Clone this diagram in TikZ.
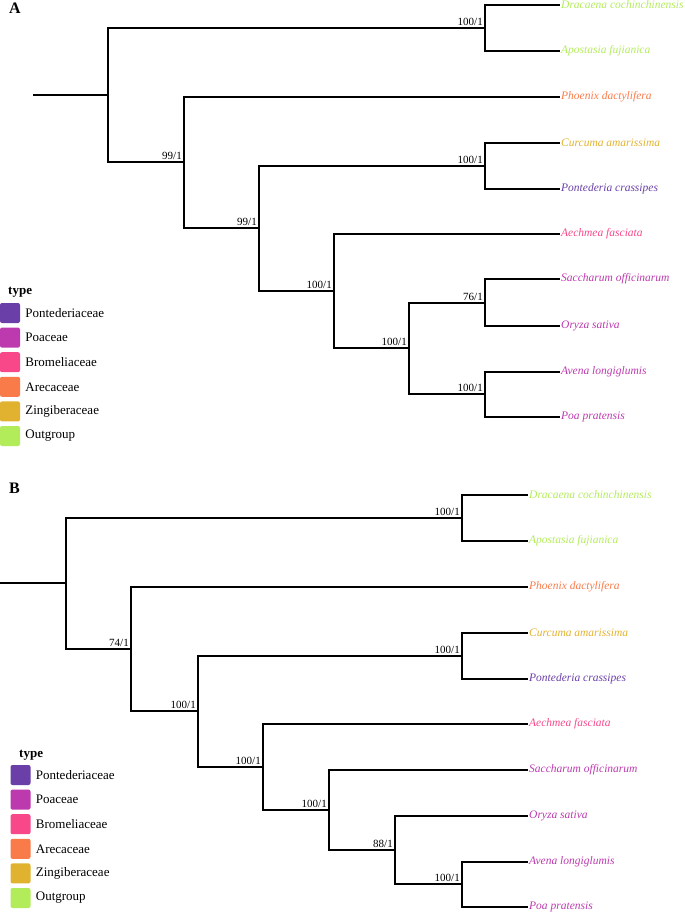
\documentclass[tikz,border=0pt]{standalone}
\usepackage{fontspec}
\setmainfont{Liberation Serif}
\usetikzlibrary{positioning}
\definecolor{ponte}{HTML}{6A3FA8}
\definecolor{poa}{HTML}{BC3AAE}
\definecolor{brom}{HTML}{F8488A}
\definecolor{areca}{HTML}{F97B4A}
\definecolor{zingi}{HTML}{E1B22F}
\definecolor{outg}{HTML}{B3EC5A}
\begin{document}
\begin{tikzpicture}
[x=1pt,y=-1pt,
  every node/.append style={font=\fontsize{11}{13}\selectfont},%
  branchdecorate/.style={-,line width=1.1pt},%
  taxondecorate/.style={anchor=west,inner sep=1pt,font=\fontsize{11.5}{13}\selectfont\itshape},%
  supportdecorate/.style={anchor=south east,inner sep=2pt},%
  keydecorate/.style={minimum size=20pt,inner sep=0pt,rounded corners=2pt},%
  keytextdecorate/.style={inner sep=0pt,font=\fontsize{13}{15}\selectfont},%
  paneldecorate/.style={font=\fontsize{16}{18}\selectfont\bfseries}]
\useasboundingbox (0,0) rectangle (685,914);
\node[paneldecorate] (panelA) at (15,8) {A};
\node[paneldecorate] (panelB) at (14.5,488) {B};
%% tree A: inner nodes
\foreach \nodename/\x/\y in {aroot/33/95, a0/108/95, a1/485/28, a2/184/162,
  a3/259/228, a4/485/166, a5/334/291, a6/409/348, a7/485/303, a8/485/394} {
  \coordinate (\nodename) at (\x,\y);
}
%% tree A: tips
\foreach \nodename/\y/\col/\taxon in {adrac/5/outg/Dracaena cochinchinensis,
  aapos/51/outg/Apostasia fujianica, aphoe/97/areca/Phoenix dactylifera,
  acurc/143/zingi/Curcuma amarissima, apont/189/ponte/Pontederia crassipes,
  aaech/234/brom/Aechmea fasciata, asacc/279/poa/Saccharum officinarum,
  aoryz/326/poa/Oryza sativa, aaven/372/poa/Avena longiglumis,
  apoap/417/poa/Poa pratensis} {
  \coordinate (\nodename) at (560,\y);
  \node[taxondecorate,text=\col] (t\nodename) at (\nodename) {\taxon};
}
%% tree B: inner nodes
\foreach \nodename/\x/\y in {broot/0/583, b0/66/583, b1/462/518, b2/131/649,
  b3/198/711, b4/462/656, b5/263/767, b6/329/810, b7/395/850, b8/462/884} {
  \coordinate (\nodename) at (\x,\y);
}
%% tree B: tips
\foreach \nodename/\y/\col/\taxon in {bdrac/495/outg/Dracaena cochinchinensis,
  bapos/541/outg/Apostasia fujianica, bphoe/587/areca/Phoenix dactylifera,
  bcurc/633/zingi/Curcuma amarissima, bpont/679/ponte/Pontederia crassipes,
  baech/724/brom/Aechmea fasciata, bsacc/770/poa/Saccharum officinarum,
  boryz/816/poa/Oryza sativa, baven/862/poa/Avena longiglumis,
  bpoap/907/poa/Poa pratensis} {
  \coordinate (\nodename) at (528,\y);
  \node[taxondecorate,text=\col] (t\nodename) at (\nodename) {\taxon};
}
%% branches
\foreach \startnode/\endnode in {aroot/a0, a0/a1, a0/a2, a1/adrac, a1/aapos,
  a2/aphoe, a2/a3, a3/a4, a3/a5, a4/acurc, a4/apont, a5/aaech, a5/a6,
  a6/a7, a6/a8, a7/asacc, a7/aoryz, a8/aaven, a8/apoap,
  broot/b0, b0/b1, b0/b2, b1/bdrac, b1/bapos, b2/bphoe, b2/b3, b3/b4,
  b3/b5, b4/bcurc, b4/bpont, b5/baech, b5/b6, b6/bsacc, b6/b7, b7/boryz,
  b7/b8, b8/baven, b8/bpoap} {
  \draw[branchdecorate] (\startnode) |- (\endnode);
}
%% support values
\foreach \nodename/\boot/\post in {a1/100/1, a2/99/1, a3/99/1, a4/100/1,
  a5/100/1, a6/100/1, a7/76/1, a8/100/1,
  b1/100/1, b2/74/1, b3/100/1, b4/100/1, b5/100/1, b6/100/1, b7/88/1,
  b8/100/1} {
  \node[supportdecorate] (s\nodename) at (\nodename) {\boot/\post};
}
%% legends
\node[anchor=west,keytextdecorate,font=\fontsize{13}{15}\selectfont\bfseries] (keyAhead) at (8,292) {type};
\node[anchor=west,keytextdecorate,font=\fontsize{13}{15}\selectfont\bfseries] (keyBhead) at (19,755) {type};
\foreach \i/\col/\fam in {0/ponte/Pontederiaceae, 1/poa/Poaceae,
  2/brom/Bromeliaceae, 3/areca/Arecaceae, 4/zingi/Zingiberaceae,
  5/outg/Outgroup} {
  \node[keydecorate,fill=\col] (keyA\i) at (10,{313+24.6*\i}) {};
  \node[keytextdecorate,right=5pt of keyA\i] (famA\i) {\fam};
  \node[keydecorate,fill=\col] (keyB\i) at (20.5,{775+24.6*\i}) {};
  \node[keytextdecorate,right=5pt of keyB\i] (famB\i) {\fam};
}
\end{tikzpicture}
\end{document}
